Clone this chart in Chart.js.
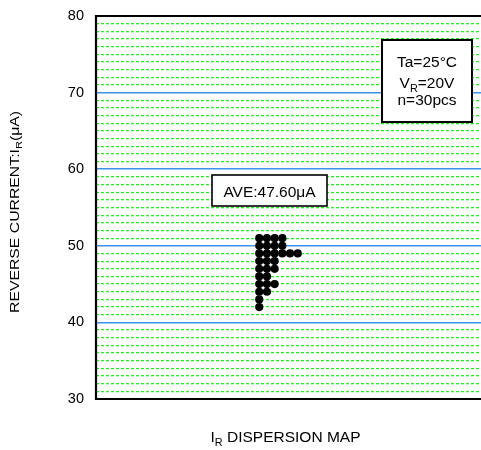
<!DOCTYPE html>
<html>
<head>
<meta charset="utf-8">
<script src="https://cdn.jsdelivr.net/npm/chart.js@4"></script>
<style>
html,body{margin:0;padding:0;background:#fff;}
#wrap{width:481px;height:450px;position:relative;}
</style>
</head>
<body>
<div id="wrap"><canvas id="c"></canvas></div>
<script>
// ---- data ----
const yMin = 30, yMax = 80, yStep = 1, yLabelStep = 10;
const yTickLabels = [30, 40, 50, 60, 70, 80];
// individual I_R readings (μA)
const readings = [51,51,51,51,50,50,50,50,49,49,49,49,49,49,48,48,48,47,47,47,46,46,45,45,45,44,44,43,42];
const avgText = 'AVE:47.60μA';
const condLines = [
  [{t:'Ta=25°C'}],
  [{t:'V'},{t:'R',sub:true},{t:'=20V'}],
  [{t:'n=30pcs'}]
];
const xTitle = [{t:'I'},{t:'R',sub:true},{t:' DISPERSION MAP'}];
const yTitle = [{t:'REVERSE CURRENT:I'},{t:'R',sub:true},{t:'(μA)'}];

// stack equal readings side by side (dot-plot columns)
const seen = {};
const points = readings.map(v => { const col = seen[v] || 0; seen[v] = col + 1; return {x: col, y: v}; });

const FONT = '"Liberation Sans", Arial, sans-serif';

function richWidth(ctx, parts, size){
  let w = 0;
  parts.forEach(p => { ctx.font = (p.sub ? size*0.7 : size) + 'px ' + FONT; w += ctx.measureText(p.t).width; });
  return w;
}
function drawRich(ctx, parts, x, y, size){ // x = left, y = baseline
  parts.forEach(p => {
    const s = p.sub ? size*0.7 : size;
    ctx.font = s + 'px ' + FONT;
    ctx.fillText(p.t, x, p.sub ? y + size*0.25 : y);
    x += ctx.measureText(p.t).width;
  });
}

const deco = {
  id: 'deco',
  afterDraw(chart){
    const ctx = chart.ctx, a = chart.chartArea;
    ctx.save();
    // frame (top, left, bottom)
    ctx.strokeStyle = '#000'; ctx.lineWidth = 2.2;
    ctx.beginPath();
    ctx.moveTo(a.right + 2, a.top); ctx.lineTo(a.left, a.top); ctx.lineTo(a.left, a.bottom); ctx.lineTo(a.right + 2, a.bottom);
    ctx.stroke();

    ctx.fillStyle = '#000'; ctx.textBaseline = 'alphabetic'; ctx.textAlign = 'left';
    // x title
    let w = richWidth(ctx, xTitle, 15.5);
    drawRich(ctx, xTitle, (a.left + a.right)/2 - w/2 - 3, 442, 15.5);
    // y title (rotated, stretched along its length)
    ctx.save();
    const ySize = 12.5;
    w = richWidth(ctx, yTitle, ySize);
    const target = 202;
    ctx.translate(18.5, 212);
    ctx.rotate(-Math.PI/2);
    ctx.scale(target / w, 1);
    drawRich(ctx, yTitle, -w/2, 0, ySize);
    ctx.restore();

    // AVE box
    ctx.fillStyle = '#fff'; ctx.strokeStyle = '#000'; ctx.lineWidth = 1.6;
    ctx.fillRect(212, 175, 115, 31); ctx.strokeRect(212, 175, 115, 31);
    ctx.fillStyle = '#000';
    ctx.font = '15.5px ' + FONT; ctx.textAlign = 'center';
    ctx.fillText(avgText, 269.5, 197);

    // conditions box
    ctx.fillStyle = '#fff'; ctx.lineWidth = 2;
    ctx.fillRect(382, 40, 90, 82); ctx.strokeRect(382, 40, 90, 82);
    ctx.fillStyle = '#000'; ctx.textAlign = 'left';
    const bases = [67, 88, 104.5];
    condLines.forEach((ln, i) => {
      const lw = richWidth(ctx, ln, 15.5);
      drawRich(ctx, ln, 427 - lw/2, bases[i], 15.5);
    });
    ctx.restore();
  }
};

new Chart(document.getElementById('c'), {
  type: 'scatter',
  data: {
    datasets: [{
      data: points,
      backgroundColor: '#000',
      borderColor: '#000',
      borderWidth: 0,
      pointRadius: 4.1,
      pointHoverRadius: 4.1,
      clip: false
    }]
  },
  options: {
    responsive: true,
    maintainAspectRatio: false,
    animation: false,
    devicePixelRatio: 1,
    layout: {autoPadding: false, padding: {top: 16, bottom: 51, left: 0, right: 0}},
    plugins: {legend: {display: false}, tooltip: {enabled: false}},
    scales: {
      x: {
        type: 'linear', display: false, min: -21.2, max: 28.8,
        grid: {display: false}
      },
      y: {
        type: 'linear', min: yMin, max: yMax,
        afterFit: s => { s.width = 96; s.paddingTop = 0; s.paddingBottom = 0; s.paddingLeft = 0; s.paddingRight = 0; },
        afterBuildTicks: s => { const t = []; for (let v = yMin; v <= yMax; v += yStep) t.push({value: v}); s.ticks = t; },
        ticks: {
          autoSkip: false,
          padding: 12,
          color: '#000',
          font: {family: FONT, size: 14.5},
          callback: v => yTickLabels.includes(v) ? String(v) : ''
        },
        grid: {
          drawTicks: false,
          color: c => (c.tick && c.tick.value % yLabelStep === 0) ? '#3a93ea' : '#22ee22',
          lineWidth: c => (c.tick && (c.tick.value === yMin || c.tick.value === yMax)) ? 0 : ((c.tick && c.tick.value % yLabelStep === 0) ? 1.5 : 1.2)
        },
        border: {
          display: false,
          dash: c => (c.tick && c.tick.value % yLabelStep === 0) ? [] : [3, 2]
        }
      }
    }
  },
  plugins: [deco]
});
</script>
</body>
</html>
